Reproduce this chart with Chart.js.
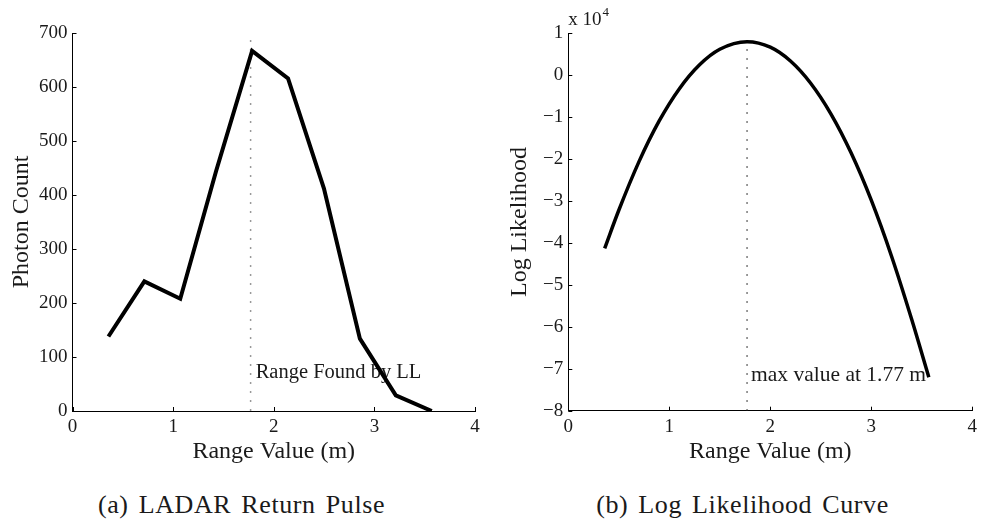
<!DOCTYPE html>
<html>
<head>
<meta charset="utf-8">
<script src="https://cdn.jsdelivr.net/npm/chart.js@4.4.0/dist/chart.umd.min.js"></script>
<style>
  body { margin: 0; background: #fff; }
  #wrap { position: relative; width: 982px; height: 523px; overflow: hidden; font-family: "Liberation Serif", serif; }
  .box { position: absolute; top: 0; width: 491px; height: 475px; }
  .cap { position: absolute; top: 490px; width: 491px; text-align: center; font-size: 26px; line-height: 30px; letter-spacing: 0.6px; word-spacing: 3px; color: #1a1a1a; }
</style>
</head>
<body>
<div id="wrap">
  <div class="box" style="left:0"><canvas id="pulse"></canvas></div>
  <div class="box" style="left:491px"><canvas id="ll"></canvas></div>
  <div class="cap" style="left:-4px">(a) LADAR Return Pulse</div>
  <div class="cap" style="left:497px">(b) Log Likelihood Curve</div>
</div>
<script>
// (a) return pulse, range bins in metres
const rangeValues = [0.357, 0.714, 1.071, 1.428, 1.785, 2.142, 2.499, 2.856, 3.213, 3.57]
const photonCounts = [138, 240, 208, 445, 667, 616, 412, 134, 29, 0]

// (b) log likelihood vs candidate range
const llRange = [0.36, 0.50, 0.70, 0.90, 1.10, 1.30, 1.50, 1.77, 2.00, 2.20, 2.40, 2.60, 2.80, 3.00, 3.20, 3.40, 3.57]
const logLikelihood = [-41300, -32200, -20600, -10900, -3200, 2500, 6200, 8000, 6700, 3400, -1900, -9200, -18500, -29800, -43100, -58200, -72000]

const foundRange = 1.77
const xTicks = [0, 1, 2, 3, 4]
const pulseTicks = [0, 100, 200, 300, 400, 500, 600, 700]
const llTicks = [-8, -7, -6, -5, -4, -3, -2, -1, 0, 1]

Chart.defaults.font.family = '"Liberation Serif", serif'
Chart.defaults.color = '#1a1a1a'
Chart.defaults.animation = false

const TEXT = '#1a1a1a'

// matlab style ticks pointing into the plot
const inwardTicks = {
    id: 'inwardTicks',
    afterDraw(chart) {
        const ctx = chart.ctx
        const a = chart.chartArea
        ctx.save()
        ctx.strokeStyle = '#000'
        ctx.lineWidth = 1
        chart.scales.x.ticks.forEach(t => {
            let px = Math.round(chart.scales.x.getPixelForValue(t.value)) + 0.5
            ctx.beginPath()
            ctx.moveTo(px, a.bottom)
            ctx.lineTo(px, a.bottom - 4)
            ctx.stroke()
        })
        chart.scales.y.ticks.forEach(t => {
            let py = Math.round(chart.scales.y.getPixelForValue(t.value)) + 0.5
            ctx.beginPath()
            ctx.moveTo(a.left, py)
            ctx.lineTo(a.left + 4, py)
            ctx.stroke()
        })
        ctx.restore()
    }
}

// text note placed in data coordinates, drawn under the lines
function notePlugin(text, x, y, size) {
    return {
        id: 'note',
        beforeDatasetsDraw(chart) {
            const ctx = chart.ctx
            ctx.save()
            ctx.font = size + 'px "Liberation Serif"'
            ctx.fillStyle = TEXT
            ctx.textAlign = 'left'
            ctx.textBaseline = 'middle'
            ctx.fillText(text, chart.scales.x.getPixelForValue(x), chart.scales.y.getPixelForValue(y))
            ctx.restore()
        }
    }
}

const exponentLabel = {
    id: 'exponentLabel',
    afterDraw(chart) {
        const ctx = chart.ctx
        const left = chart.chartArea.left
        ctx.save()
        ctx.fillStyle = TEXT
        ctx.textBaseline = 'alphabetic'
        ctx.font = '19px "Liberation Serif"'
        ctx.fillText('x 10', left, 25)
        let w = ctx.measureText('x 10').width
        ctx.font = '13px "Liberation Serif"'
        ctx.fillText('4', left + w + 1, 16)
        ctx.restore()
    }
}

function axes(yMin, yMax, yStep, yLabel, yWidth, xHeight, yTitlePad, fmt) {
    return {
        x: {
            type: 'linear', min: 0, max: 4,
            afterBuildTicks: s => { s.ticks = xTicks.map(v => ({ value: v })) },
            afterFit: s => { s.height = xHeight },
            grid: { display: false, drawTicks: false },
            border: { display: true, color: '#000', width: 1 },
            ticks: { font: { size: 19 }, padding: 5, color: TEXT },
            title: { display: true, text: 'Range Value (m)', font: { size: 24 }, color: TEXT, padding: { top: 0, bottom: 8.6 } }
        },
        y: {
            min: yMin, max: yMax,
            ticks: { stepSize: yStep, font: { size: 19 }, padding: 5, color: TEXT, callback: fmt },
            afterFit: s => { s.width = yWidth },
            grid: { display: false, drawTicks: false },
            border: { display: true, color: '#000', width: 1 },
            title: { display: true, text: yLabel, font: { size: 24 }, color: TEXT, padding: { top: yTitlePad, bottom: 0 } }
        }
    }
}

new Chart(document.getElementById('pulse'), {
    type: 'line',
    data: {
        datasets: [{
            data: rangeValues.map((x, i) => ({ x: x, y: photonCounts[i] })),
            borderColor: '#000', borderWidth: 4, pointRadius: 0, tension: 0
        }, {
            data: [{ x: foundRange, y: 0 }, { x: foundRange, y: pulseTicks[pulseTicks.length - 1] }],
            borderColor: '#999', borderWidth: 1.5, borderDash: [2, 7], pointRadius: 0
        }]
    },
    options: {
        responsive: true, maintainAspectRatio: false,
        layout: { padding: { top: 33, right: 16, left: 0, bottom: 0 } },
        plugins: { legend: { display: false }, tooltip: { enabled: false } },
        scales: axes(0, 700, 100, 'Photon Count', 72.5, 64, 7)
    },
    plugins: [inwardTicks, notePlugin('Range Found by LL', 1.82, 72, 20.5)]
})

new Chart(document.getElementById('ll'), {
    type: 'line',
    data: {
        datasets: [{
            data: llRange.map((x, i) => ({ x: x, y: logLikelihood[i] })),
            borderColor: '#000', borderWidth: 3.5, pointRadius: 0, cubicInterpolationMode: 'monotone'
        }, {
            data: [{ x: foundRange, y: -80000 }, { x: foundRange, y: 10000 }],
            borderColor: '#222', borderWidth: 1.2, borderDash: [1.5, 7.5], pointRadius: 0
        }]
    },
    options: {
        responsive: true, maintainAspectRatio: false,
        layout: { padding: { top: 33.3, right: 7, left: 0, bottom: 0 } },
        plugins: { legend: { display: false }, tooltip: { enabled: false } },
        scales: axes(-80000, 10000, 10000, 'Log Likelihood', 77.3, 64.3, 14.6,
            v => { let n = Math.round(v / 10000); return llTicks.includes(n) ? (n < 0 ? '\u2212' + (-n) : '' + n) : '' })
    },
    plugins: [inwardTicks, exponentLabel, notePlugin('max value at 1.77 m', 1.81, -71550, 21.5)]
})
</script>
</body>
</html>
